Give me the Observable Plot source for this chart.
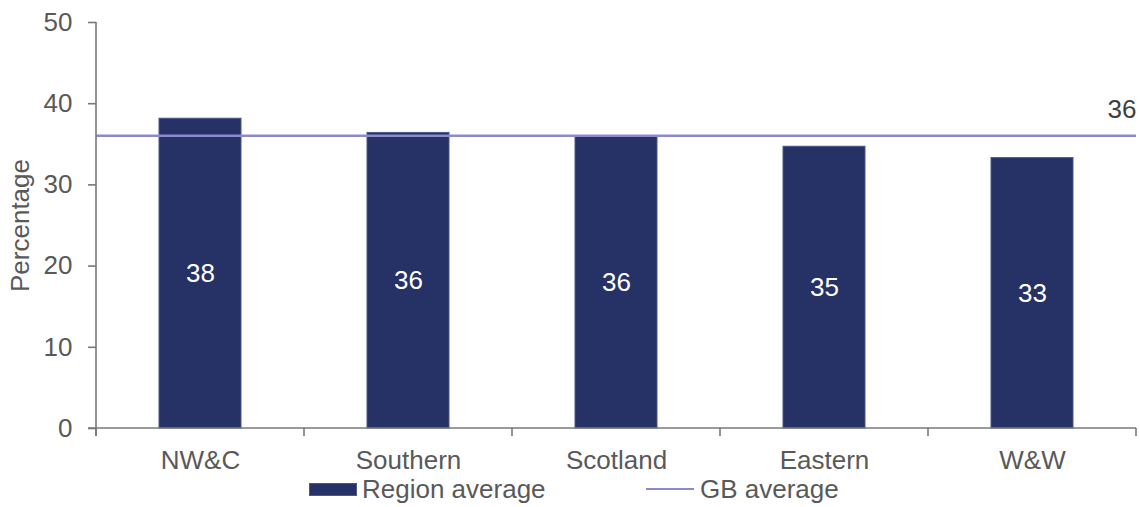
<!DOCTYPE html>
<html>
<head>
<meta charset="utf-8">
<script src="https://cdn.jsdelivr.net/npm/d3@7"></script>
<script src="https://cdn.jsdelivr.net/npm/@observablehq/plot@0.6"></script>
<style>
  html, body { margin: 0; padding: 0; background: #ffffff; }
  #wrap { width: 1140px; font-family: "Liberation Sans", Arial, sans-serif; color: #595959; }
  #legend { position: relative; width: 1140px; height: 33px; font-size: 26px; line-height: 30px; }
  #legend .sw { position: absolute; }
  #legend .lb { position: absolute; top: 0; white-space: nowrap; }
</style>
</head>
<body>
<div id="wrap">
  <div id="chart"></div>
  <div id="legend"></div>
</div>
<script>
// ---- data ----
const regions = ["NW&C", "Southern", "Scotland", "Eastern", "W&W"];
const regionAverage = [38.15, 36.4, 35.9, 34.7, 33.3];
const gbAverage = [36.05];
const yTicks = [0, 10, 20, 30, 40, 50];
const yLabel = "Percentage";
const seriesNames = ["Region average", "GB average"];

// ---- styles ----
const barColor = "#263265";
const barEdge = "#4c5889";
const lineColor = "#8c89cd";
const axisColor = "#787878";
const textColor = "#595959";

const rows = regions.map((r, i) => ({region: r, value: regionAverage[i]}));

function axisFrame(index, scales, values, dims) {
  const x = scales.x;
  const dom = x.domain();
  const step = dom.length > 1 ? x(dom[1]) - x(dom[0]) : x.bandwidth();
  const gap = (step - x.bandwidth()) / 2;
  const edges = dom.map(c => x(c) - gap);
  edges.push(edges[edges.length - 1] + step);
  const y0 = dims.height - dims.marginBottom;
  const g = d3.create("svg:g").attr("stroke", axisColor).attr("stroke-width", 1.6).attr("fill", "none");
  // y axis domain line
  g.append("line").attr("x1", dims.marginLeft).attr("x2", dims.marginLeft)
    .attr("y1", dims.marginTop).attr("y2", y0 + 8);
  // x axis domain line
  g.append("line").attr("x1", dims.marginLeft - 8).attr("x2", dims.width - dims.marginRight)
    .attr("y1", y0).attr("y2", y0);
  // category boundary ticks
  for (const e of edges) {
    g.append("line").attr("x1", e).attr("x2", e).attr("y1", y0).attr("y2", y0 + 8);
  }
  return g.node();
}

const chart = Plot.plot({
  width: 1140,
  height: 474,
  marginLeft: 96,
  marginRight: 4,
  marginTop: 22,
  marginBottom: 46,
  style: {fontFamily: "'Liberation Sans', Arial, sans-serif", fontSize: "26px", color: textColor, background: "#ffffff"},
  x: {domain: regions, paddingInner: 0.605, paddingOuter: 0.3025, label: null},
  y: {domain: [0, 50], label: null},
  marks: [
    Plot.barY(rows, {x: "region", y: "value", fill: barColor, stroke: barEdge, strokeWidth: 1}),
    Plot.ruleY(gbAverage, {stroke: lineColor, strokeWidth: 2.6}),
    Plot.text(rows, {x: "region", y: d => d.value / 2, text: d => d3.format(".0f")(d.value),
      fill: "#ffffff", fontSize: 26}),
    Plot.text(gbAverage, {y: d => d, frameAnchor: "right", textAnchor: "end", dy: -26,
      text: d => d3.format(".0f")(d), fill: "#404040", fontSize: 26}),
    Plot.axisY({ticks: yTicks, tickSize: 8, tickPadding: 16, stroke: axisColor, strokeWidth: 1.6,
      label: null, fill: textColor, fontSize: 26}),
    Plot.axisX({tickSize: 0, tickPadding: 22, label: null, fill: textColor, fontSize: 26}),
    Plot.text([yLabel], {frameAnchor: "left", rotate: -90, dx: -86, lineAnchor: "top", textAnchor: "middle",
      text: d => d, fill: textColor, fontSize: 26}),
    axisFrame
  ]
});
document.getElementById("chart").appendChild(chart);

// ---- legend ----
const legend = d3.select("#legend");
legend.append("div").attr("class", "sw")
  .style("left", "309px").style("top", "9px").style("width", "46px").style("height", "11px")
  .style("background", barColor).style("border", `1px solid ${barEdge}`);
legend.append("div").attr("class", "lb").style("left", "362px").text(seriesNames[0]);
legend.append("div").attr("class", "sw")
  .style("left", "646px").style("top", "14px").style("width", "48px").style("height", "2px")
  .style("background", lineColor);
legend.append("div").attr("class", "lb").style("left", "700px").text(seriesNames[1]);
</script>
</body>
</html>
